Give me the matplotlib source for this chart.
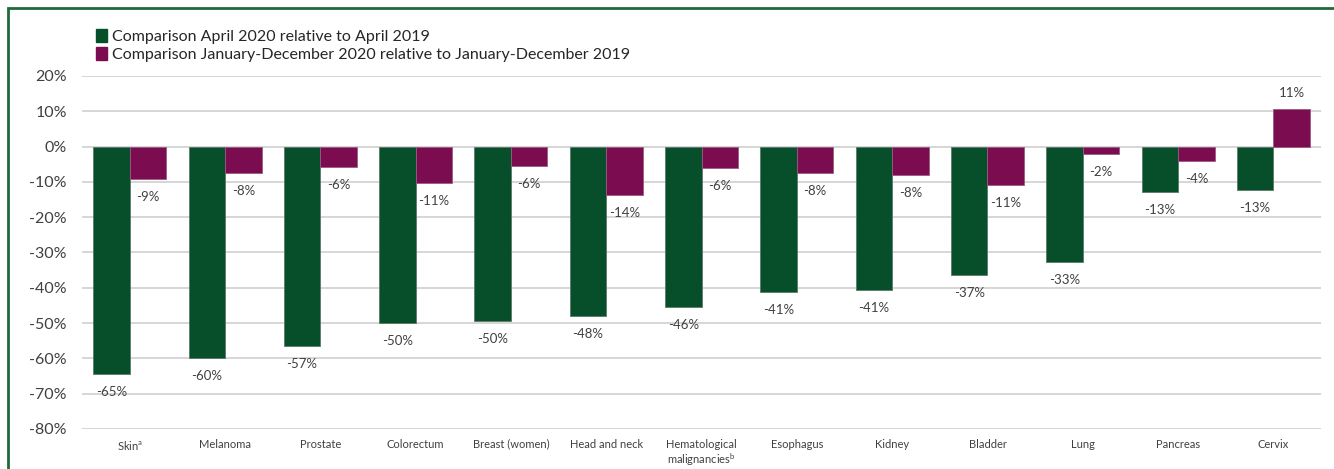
import matplotlib.pyplot as plt
import matplotlib.patches as mpatches
import numpy as np

# data
categories = ['Skin$^{\\mathrm{a}}$', 'Melanoma', 'Prostate', 'Colorectum', 'Breast (women)',
              'Head and neck', 'Hematological\nmalignancies$^{\\mathrm{b}}$', 'Esophagus',
              'Kidney', 'Bladder', 'Lung', 'Pancreas', 'Cervix']
april = [-64.4, -59.8, -56.5, -50.0, -49.5, -48.0, -45.5, -41.2, -40.6, -36.5, -32.6, -12.8, -12.4]
april_labels = ['-65%', '-60%', '-57%', '-50%', '-50%', '-48%', '-46%', '-41%', '-41%',
                '-37%', '-33%', '-13%', '-13%']
year = [-9.2, -7.5, -5.8, -10.4, -5.5, -13.8, -6.0, -7.5, -8.0, -11.0, -2.0, -4.1, 10.7]
year_labels = ['-9%', '-8%', '-6%', '-11%', '-6%', '-14%', '-6%', '-8%', '-8%',
               '-11%', '-2%', '-4%', '11%']
series_names = ['Comparison April 2020 relative to April 2019',
                'Comparison January-December 2020 relative to January-December 2019']

GREEN = '#064f2a'
PURPLE = '#7b0c4f'
plt.rcParams['font.family'] = ['Lato', 'DejaVu Sans']
plt.rcParams['mathtext.fontset'] = 'custom'
plt.rcParams['mathtext.rm'] = 'Lato'

fig = plt.figure(figsize=(13.34, 4.69), dpi=100)
ax = fig.add_axes([0.0615, 0.0853, 0.9288, 0.7527])

x = np.arange(len(categories))
w = 0.383
ax.bar(x - w / 2, april, w, color=GREEN, edgecolor='#5a7a66', linewidth=0.6, zorder=3)
ax.bar(x + w / 2, year, w, color=PURPLE, edgecolor='#9a5a80', linewidth=0.6, zorder=3)

for xi, v, lab in zip(x - w / 2, april, april_labels):
    ax.annotate(lab, (xi, v), xytext=(0, -13 if v < 0 else 12), textcoords='offset points',
                ha='center', va='center', fontsize=9.5, color='#404040')
for xi, v, lab in zip(x + w / 2, year, year_labels):
    ax.annotate(lab, (xi, v), xytext=(0, -13 if v < 0 else 11.5), textcoords='offset points',
                ha='center', va='center', fontsize=9.5, color='#404040')

ax.set_ylim(-80, 20)
ax.set_xlim(-0.5, 12.5)
ax.set_yticks(np.arange(-80, 21, 10))
ax.set_yticklabels([f'{t}%' for t in range(-80, 21, 10)], fontsize=11.5, color='#404040')
ax.set_xticks(x)
ax.set_xticklabels(categories, fontsize=8, color='#404040', va='top', linespacing=1.15)
ax.tick_params(length=0)
ax.tick_params(axis='x', pad=7)
ax.tick_params(axis='y', pad=11)
ax.grid(axis='y', color='#d0d0d0', linewidth=1.2, zorder=0)
for s in ax.spines.values():
    s.set_visible(False)

handles = [mpatches.Patch(color=GREEN), mpatches.Patch(color=PURPLE)]
fig.legend(handles, series_names, loc='upper left', bbox_to_anchor=(0.0675, 0.952),
           frameon=False, fontsize=11.5, handlelength=0.65, handleheight=0.85,
           handletextpad=0.3, labelspacing=0.2, borderaxespad=0, labelcolor='#262626')

# outer frame (only the top and left edges are visible in the reference)
fig.add_artist(mpatches.Rectangle((0.0062, -0.2), 1.2, 1.183, transform=fig.transFigure,
                                  fill=False, edgecolor='#1f6a3a', linewidth=2, clip_on=False))

fig.savefig('out.png', dpi=100)
